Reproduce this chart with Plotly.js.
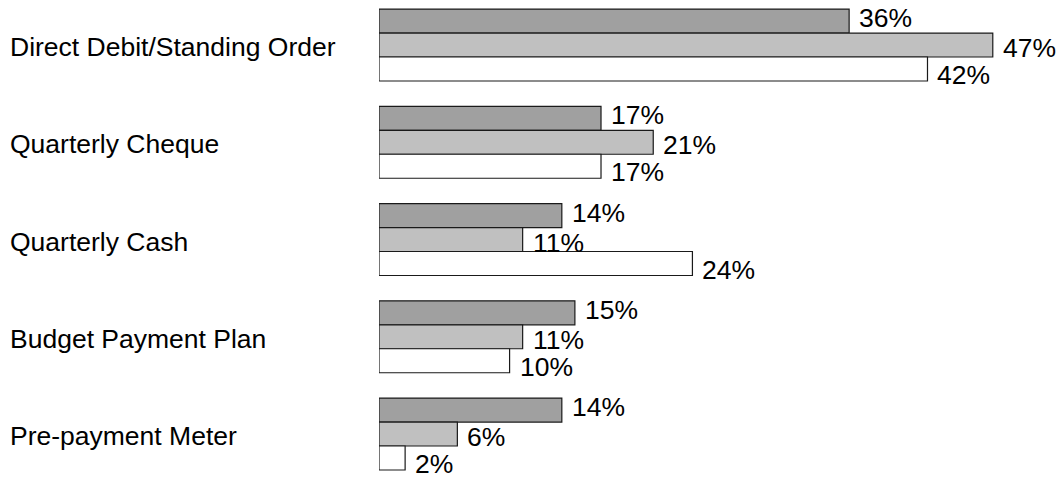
<!DOCTYPE html>
<html>
<head>
<meta charset="utf-8">
<script src="https://cdn.plot.ly/plotly-3.0.1.min.js"></script>
<style>
  html, body { margin: 0; padding: 0; background: #fff; }
  #chart { width: 1062px; height: 481px; }
</style>
</head>
<body>
<div id="chart"></div>
<script>
// Payment methods (top to bottom)
const categories = [
  "Direct Debit/Standing Order",
  "Quarterly Cheque",
  "Quarterly Cash",
  "Budget Payment Plan",
  "Pre-payment Meter"
];

// Share of customers (%) for each of the three groups
const seriesA = [36, 17, 14, 15, 14];
const seriesB = [47, 21, 11, 11, 6];
const seriesC = [42, 17, 24, 10, 2];

const FONT = "Liberation Sans, Arial, Helvetica, sans-serif";
const FONT_SIZE = 26.5;

const seriesList = [
  { name: "A", values: seriesA, fill: "#a0a0a0", labelShift: 27 },
  { name: "B", values: seriesB, fill: "#c0c0c0", labelShift: -3 },
  { name: "C", values: seriesC, fill: "#ffffff", labelShift: -30 }
];

const traces = seriesList.map(s => ({
  type: "bar",
  orientation: "h",
  name: s.name,
  y: categories,
  x: s.values,
  marker: { color: s.fill, line: { color: "#1a1a1a", width: 1.2 } },
  hoverinfo: "x+y",
  showlegend: false
}));

const annotations = [];

// value labels at the end of each bar
seriesList.forEach(s => {
  s.values.forEach((v, i) => {
    annotations.push({
      x: v, y: categories[i], xref: "x", yref: "y",
      text: v + "%",
      showarrow: false,
      xanchor: "left", yanchor: "middle",
      xshift: 8, yshift: s.labelShift,
      font: { family: FONT, size: FONT_SIZE, color: "#000" }
    });
  });
});

// category names, left aligned
categories.forEach(c => {
  annotations.push({
    x: 0, y: c, xref: "paper", yref: "y",
    text: c,
    showarrow: false,
    xanchor: "left", yanchor: "middle",
    xshift: -371, yshift: -2,
    font: { family: FONT, size: FONT_SIZE, color: "#000" }
  });
});

const layout = {
  width: 1062,
  height: 481,
  margin: { l: 379, r: 0, t: 0, b: 0 },
  paper_bgcolor: "#fff",
  plot_bgcolor: "#fff",
  barmode: "group",
  bargap: 0.26,
  bargroupgap: 0,
  font: { family: FONT, size: FONT_SIZE, color: "#000" },
  xaxis: {
    range: [0, 52.3],
    showgrid: false, zeroline: false, showline: false,
    showticklabels: false, ticks: ""
  },
  yaxis: {
    type: "category",
    range: [4.483, -0.463],
    showgrid: false, zeroline: false, showline: false,
    showticklabels: false, ticks: ""
  },
  annotations: annotations
};

Plotly.newPlot("chart", traces, layout, { displayModeBar: false, staticPlot: true });
</script>
</body>
</html>
